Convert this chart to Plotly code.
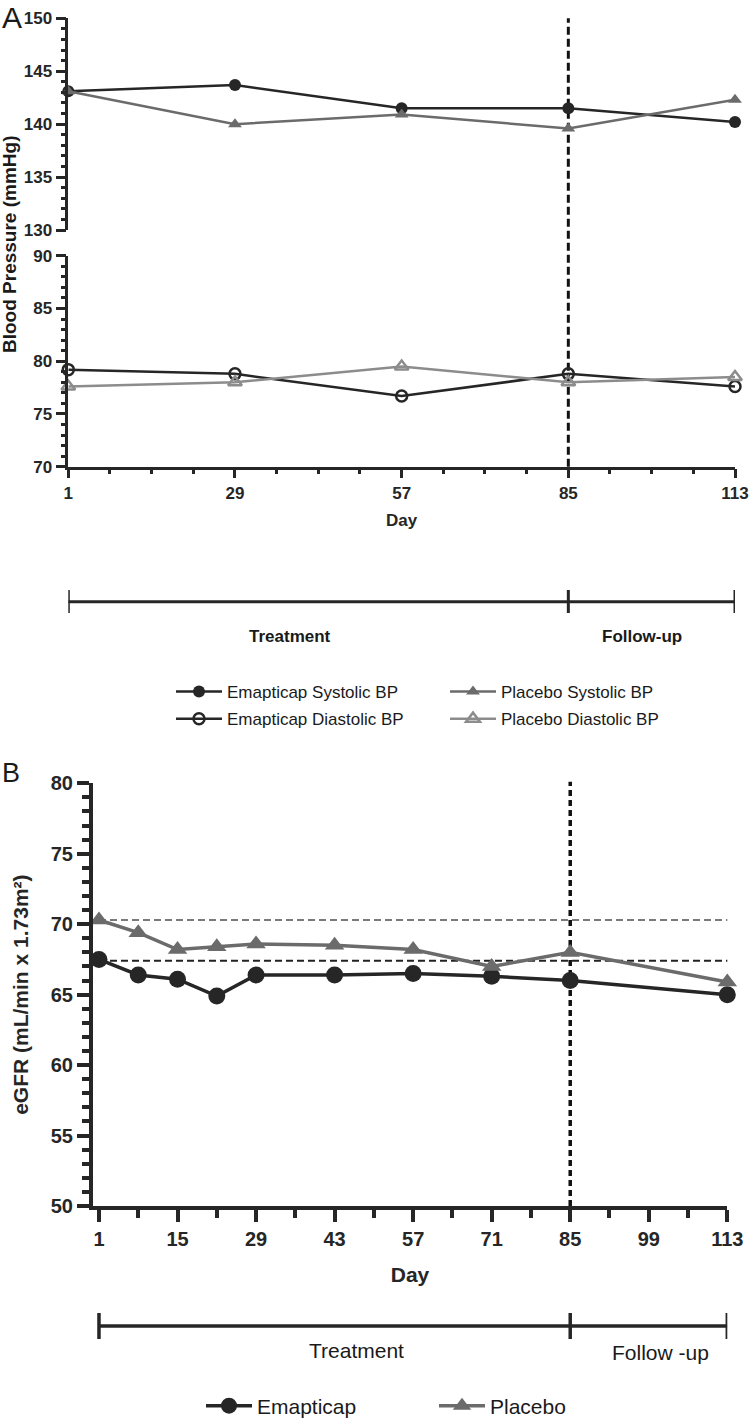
import plotly.graph_objects as go

# ---------------- data ----------------
days_bp = [1, 29, 57, 85, 113]
emp_sys = [143.1, 143.7, 141.5, 141.5, 140.2]
plc_sys = [143.1, 140.0, 140.9, 139.6, 142.3]
emp_dia = [79.2, 78.8, 76.7, 78.8, 77.6]
plc_dia = [77.6, 78.0, 79.5, 78.0, 78.5]
bp_tickvals = [1, 29, 57, 85, 113]
bp_minor = [8, 15, 22, 36, 43, 50, 64, 71, 78, 92, 99, 106]

days_egfr = [1, 8, 15, 22, 29, 43, 57, 71, 85, 113]
emp_egfr = [67.5, 66.4, 66.1, 64.9, 66.4, 66.4, 66.5, 66.3, 66.0, 65.0]
plc_egfr = [70.3, 69.4, 68.2, 68.4, 68.6, 68.5, 68.2, 67.0, 68.0, 65.9]
emp_baseline = 67.4
plc_baseline = 70.3
egfr_tickvals = [1, 15, 29, 43, 57, 71, 85, 99, 113]
egfr_minor = [8, 22, 36, 50, 64, 78, 92, 106]

phase_days = [1, 85, 113]   # treatment start, end of treatment, end of follow-up

# ---------------- helpers ----------------
W, H = 752, 1422
FONT = "Liberation Sans, Arial, sans-serif"
DARK = "#262626"
MID = "#6b6b6b"
LIGHT = "#8c8c8c"


def fx(p):
    return p / W


def fy(p):
    return 1 - p / H


fig = go.Figure()

# ---------------- panel A traces ----------------
fig.add_trace(go.Scatter(x=days_bp, y=emp_sys, xaxis="x", yaxis="y", mode="lines+markers",
                         name="Emapticap Systolic BP", legend="legend", legendgroup="a1",
                         line=dict(color=DARK, width=2.5),
                         marker=dict(symbol="circle", size=12, color=DARK), cliponaxis=False))
fig.add_trace(go.Scatter(x=days_bp, y=emp_dia, xaxis="x2", yaxis="y2", mode="lines+markers",
                         name="Emapticap Diastolic BP", legend="legend", legendgroup="a2",
                         line=dict(color=DARK, width=2.5),
                         marker=dict(symbol="circle-open", size=11, color=DARK, line=dict(width=2.5)),
                         cliponaxis=False))
fig.add_trace(go.Scatter(x=days_bp, y=plc_sys, xaxis="x", yaxis="y", mode="lines+markers",
                         name="Placebo Systolic BP", legend="legend2", legendgroup="b1",
                         line=dict(color=MID, width=2.5),
                         marker=dict(symbol="triangle-up", size=12, color=MID), cliponaxis=False))
fig.add_trace(go.Scatter(x=days_bp, y=plc_dia, xaxis="x2", yaxis="y2", mode="lines+markers",
                         name="Placebo Diastolic BP", legend="legend2", legendgroup="b2",
                         line=dict(color=LIGHT, width=2.5),
                         marker=dict(symbol="triangle-up-open", size=12, color=LIGHT, line=dict(width=2.5)),
                         cliponaxis=False))

# ---------------- panel B traces ----------------
fig.add_trace(go.Scatter(x=days_egfr, y=emp_egfr, xaxis="x3", yaxis="y3", mode="lines+markers",
                         name="Emapticap", legend="legend3",
                         line=dict(color=DARK, width=3.5),
                         marker=dict(symbol="circle", size=17, color=DARK), cliponaxis=False))
fig.add_trace(go.Scatter(x=days_egfr, y=plc_egfr, xaxis="x3", yaxis="y3", mode="lines+markers",
                         name="Placebo", legend="legend3",
                         line=dict(color=MID, width=3.5),
                         marker=dict(symbol="triangle-up", size=17, color=MID), cliponaxis=False))

# ---------------- axes ----------------
ax_a = dict(showline=True, linewidth=2.5, linecolor=DARK, ticks="outside", tickwidth=2.5,
            tickcolor=DARK, showgrid=False, zeroline=False, automargin=False,
            tickfont=dict(family=FONT, size=17, color=DARK, weight="bold"))
xdomA = [fx(68.3), fx(735)]
fig.update_layout(
    xaxis=dict(domain=xdomA, range=[1, 113], anchor="y", visible=False),
    xaxis2=dict(domain=xdomA, range=[1, 113], anchor="y2", tickvals=bp_tickvals, ticklen=9,
                minor=dict(tickvals=bp_minor, ticklen=5, tickwidth=2.5, ticks="outside", tickcolor=DARK),
                title=dict(text="Day", standoff=13, font=dict(family=FONT, size=17, color=DARK, weight="bold")),
                **ax_a),
    yaxis=dict(domain=[fy(230), fy(18.3)], range=[130, 150], anchor="x", tickvals=[130, 135, 140, 145, 150],
               ticklen=10, minor=dict(dtick=1, ticklen=5, tickwidth=2.5, ticks="outside", tickcolor=DARK),
               **ax_a),
    yaxis2=dict(domain=[fy(466.7), fy(255.7)], range=[70, 90], anchor="x2", tickvals=[70, 75, 80, 85, 90],
                ticklen=10, minor=dict(dtick=1, ticklen=5, tickwidth=2.5, ticks="outside", tickcolor=DARK),
                **ax_a),
)

ax_b = dict(showline=True, linewidth=3.5, linecolor=DARK, ticks="outside", tickwidth=3.5,
            tickcolor=DARK, showgrid=False, zeroline=False, automargin=False,
            tickfont=dict(family=FONT, size=20, color=DARK, weight="bold"))
fig.update_layout(
    xaxis3=dict(domain=[fx(92.7), fx(727.3)], range=[-0.12, 113], anchor="y3", tickvals=egfr_tickvals,
                ticklen=12,
                minor=dict(tickvals=egfr_minor, ticklen=8, tickwidth=3.5, ticks="outside", tickcolor=DARK),
                title=dict(text="Day", standoff=20, font=dict(family=FONT, size=21, color=DARK, weight="bold")),
                **ax_b),
    yaxis3=dict(domain=[fy(1206), fy(783.3)], range=[50, 80], anchor="x3",
                tickvals=[50, 55, 60, 65, 70, 75, 80], ticklen=12,
                minor=dict(dtick=1, ticklen=7, tickwidth=3.5, ticks="outside", tickcolor=DARK),
                title=dict(text="eGFR (mL/min x 1.73m²)", standoff=17,
                           font=dict(family=FONT, size=21, color=DARK, weight="bold")),
                **ax_b),
)

# ---------------- shapes ----------------
shapes = []
# panel A: end of treatment marker spanning both broken axes
shapes.append(dict(type="line", xref="x2", yref="paper", x0=phase_days[1], x1=phase_days[1],
                   y0=fy(466.7), y1=fy(18.3), line=dict(color="#111111", width=3, dash="8px,4px"),
                   layer="below"))
# panel B: baselines and end of treatment
shapes.append(dict(type="line", xref="x3", yref="y3", x0=phase_days[0], x1=114, y0=plc_baseline,
                   y1=plc_baseline, line=dict(color="#7a7a7a", width=2, dash="7px,4px"), layer="below"))
shapes.append(dict(type="line", xref="x3", yref="y3", x0=phase_days[0], x1=114, y0=emp_baseline,
                   y1=emp_baseline, line=dict(color="#222222", width=2, dash="7px,4px"), layer="below"))
shapes.append(dict(type="line", xref="x3", yref="paper", x0=phase_days[1], x1=phase_days[1],
                   y0=fy(1206), y1=fy(781.7), line=dict(color="#111111", width=3.5, dash="6px,4px"),
                   layer="below"))


# timelines
def timeline(xref, ybar, ytop, ybot, width):
    out = [dict(type="line", xref=xref, yref="paper", x0=phase_days[0], x1=phase_days[-1],
                y0=fy(ybar), y1=fy(ybar), line=dict(color=DARK, width=width))]
    for d in phase_days:
        out.append(dict(type="line", xref=xref, yref="paper", x0=d, x1=d, y0=fy(ybot), y1=fy(ytop),
                        line=dict(color=DARK, width=width)))
    return out


shapes += timeline("x2", 601.7, 590, 613, 3)
shapes += timeline("x3", 1326, 1313, 1339, 3.5)
fig.update_layout(shapes=shapes)


# ---------------- annotations ----------------
def ann(text, x, y, size, bold=False, angle=0, yanchor="middle"):
    return dict(text=text, x=fx(x), y=fy(y), xref="paper", yref="paper", showarrow=False,
                xanchor="center", yanchor=yanchor, textangle=angle, borderpad=0,
                font=dict(family=FONT, size=size, color="#1a1a1a", weight="bold" if bold else "normal"))


fig.update_layout(annotations=[
    ann("A", 12, 0, 30, yanchor="top"),
    ann("B", 11, 773, 27),
    ann("Blood Pressure (mmHg)", 10, 245, 19, bold=True, angle=-90),
    ann("Treatment", 290, 636, 17, bold=True),
    ann("Follow-up", 642, 636, 17, bold=True),
    ann("Treatment", 356, 1350, 21),
    ann("Follow -up", 660, 1352, 21),
])

# ---------------- legends ----------------
legA = dict(orientation="v", xanchor="left", yanchor="top", bgcolor="rgba(0,0,0,0)",
            font=dict(family=FONT, size=17, color="#1a1a1a"), tracegroupgap=2, itemwidth=46)
fig.update_layout(
    showlegend=True,
    legend=dict(x=fx(171), y=fy(674), **legA),
    legend2=dict(x=fx(445), y=fy(674), **legA),
    legend3=dict(orientation="h", x=fx(201), y=fy(1406), xanchor="left", yanchor="middle",
                 bgcolor="rgba(0,0,0,0)", entrywidth=172, entrywidthmode="pixels",
                 font=dict(family=FONT, size=21, color="#1a1a1a"), itemwidth=46),
)

fig.update_layout(width=W, height=H, margin=dict(l=0, r=0, t=0, b=0, autoexpand=False),
                  paper_bgcolor="white", plot_bgcolor="white", font=dict(family=FONT))

fig.write_html("out.html", config={"displayModeBar": False},
               post_script="document.body.style.margin='0px';document.body.style.padding='0px';")
